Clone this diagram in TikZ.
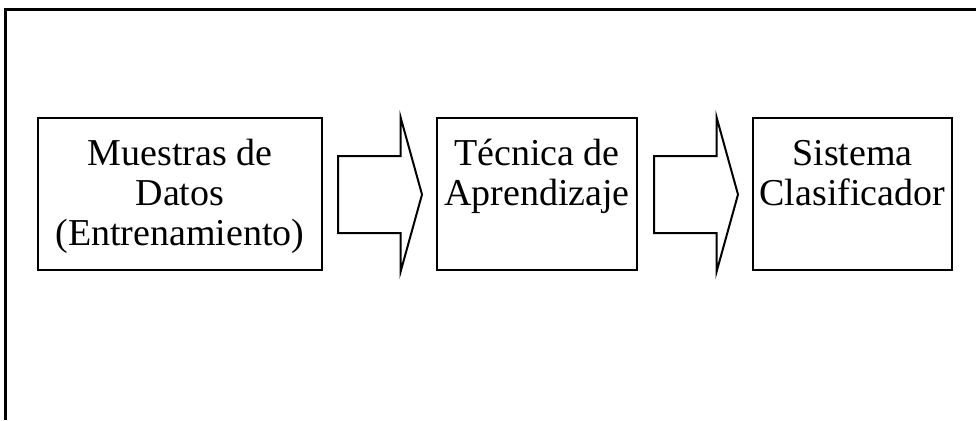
\documentclass[tikz,border=0pt]{standalone}
\usepackage{fontspec}
\setmainfont{Liberation Serif}
\usetikzlibrary{shapes.arrows, positioning}

\begin{document}
\begin{tikzpicture}[
    x=0.5pt, y=-0.5pt,
    font=\fontsize{19}{20}\selectfont,
    box/.style={draw, line width=1pt, minimum height=76pt, inner sep=0pt},
    lbl/.style={align=center, inner sep=0pt, anchor=base},
    flecha/.style={draw, single arrow, line width=1pt, inner xsep=0pt, inner ysep=18.75pt,
      minimum height=42pt, single arrow head extend=19.25pt, single arrow tip angle=149, anchor=tail}
  ]
  \useasboundingbox (0,0) rectangle (976,420);
  % marco
  \draw[line width=1.5pt] (5,420) -- (5,9) -- (976,9);

  % bloques
  \node[box, minimum width=142pt] (datos) at (180,194) {};
  \node[box, minimum width=100pt, line width=0.6pt] (tecnica) at (537,194) {};
  \node[box, minimum width=99.5pt] (sistema) at (852.5,194) {};

  \node[lbl] (tdatos) at (180,245) {Muestras de\\Datos\\(Entrenamiento)};
  \node[lbl] (ttecnica) at (537,205) {Técnica de\\Aprendizaje};
  \node[lbl] (tsistema) at (852.5,205) {Sistema\\Clasificador};

  % flechas de bloque
  \node[flecha] (f1) at (337,194.5) {};
  \node[flecha] (f2) at (653,194.5) {};
\end{tikzpicture}
\end{document}
